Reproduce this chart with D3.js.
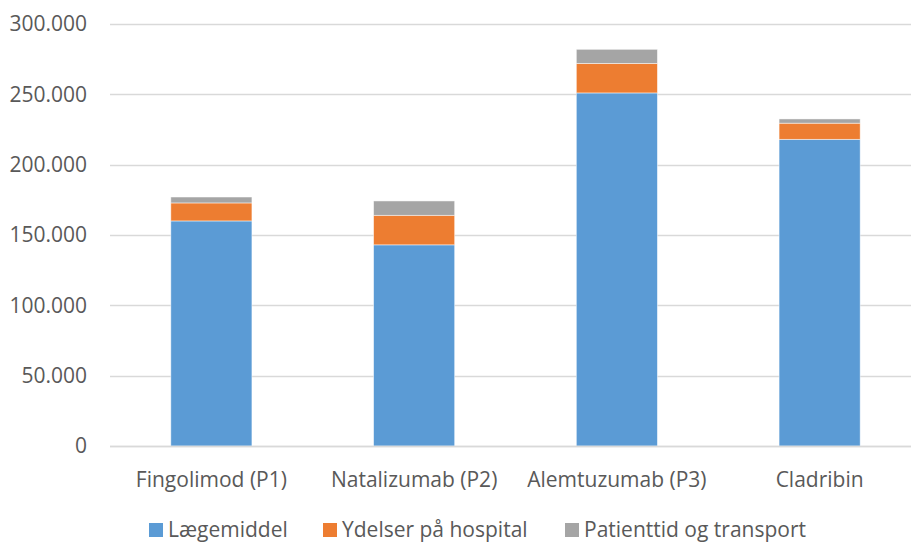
<!DOCTYPE html>
<html>
<head>
<meta charset="utf-8">
<script src="https://cdn.jsdelivr.net/npm/d3@7"></script>
<style>
  html, body { margin: 0; padding: 0; background: #fff; }
  svg { display: block; font-family: "Open Sans", "Lato", sans-serif; }
</style>
</head>
<body>
<svg id="chart" width="911" height="542"></svg>
<script>
// Costs per treatment (DKK), stacked by cost type
const categories = ["Fingolimod (P1)", "Natalizumab (P2)", "Alemtuzumab (P3)", "Cladribin"];
const seriesNames = ["Lægemiddel", "Ydelser på hospital", "Patienttid og transport"];
const laegemiddel = [160000, 143000, 251000, 218000];
const ydelser = [12800, 21000, 21000, 11500];
const patienttid = [4200, 10200, 10000, 3000];
const yTicks = [0, 50000, 100000, 150000, 200000, 250000, 300000];
const colors = ["#5b9bd5", "#ed7d31", "#a5a5a5"];

const rows = categories.map((c, i) => ({
  cat: c,
  "Lægemiddel": laegemiddel[i],
  "Ydelser på hospital": ydelser[i],
  "Patienttid og transport": patienttid[i]
}));

const svg = d3.select("#chart");
const plotLeft = 110, plotRight = 921, plotTop = 24, plotBottom = 446;
const fontSize = "21px";
const textColor = "#595959";

const x = d3.scaleBand().domain(categories).range([plotLeft, plotRight]).paddingInner(0.6).paddingOuter(0.3);
const y = d3.scaleLinear().domain([0, 300000]).range([plotBottom, plotTop]);
const color = d3.scaleOrdinal().domain(seriesNames).range(colors);

const fmt = v => v === 0 ? "0" : d3.format(",")(v).replace(/,/g, ".");

// Horizontal gridlines
svg.append("g")
  .selectAll("line")
  .data(yTicks)
  .join("line")
  .attr("x1", plotLeft).attr("x2", 911)
  .attr("y1", d => Math.round(y(d)) + 0.5).attr("y2", d => Math.round(y(d)) + 0.5)
  .attr("stroke", "#d9d9d9").attr("stroke-width", 1.3);

// Y axis labels
const yAxis = d3.axisLeft(y).tickValues(yTicks).tickFormat(fmt).tickSize(0).tickPadding(0);
svg.append("g")
  .attr("transform", `translate(${plotLeft - 23},0)`)
  .call(yAxis)
  .call(g => g.select(".domain").remove())
  .call(g => g.selectAll("text")
    .attr("fill", textColor)
    .style("font-size", fontSize)
    .style("font-family", "'Open Sans', sans-serif"));

// Stacked bars
const stacked = d3.stack().keys(seriesNames)(rows);
svg.append("g")
  .selectAll("g")
  .data(stacked)
  .join("g")
  .attr("fill", d => color(d.key))
  .selectAll("rect")
  .data(d => d)
  .join("rect")
  .attr("x", d => x(d.data.cat))
  .attr("width", x.bandwidth())
  .attr("y", d => y(d[1]))
  .attr("height", d => y(d[0]) - y(d[1]))
  .attr("stroke", "#ffffff")
  .attr("stroke-opacity", 0.6)
  .attr("stroke-width", 0.8);

// X axis baseline
svg.append("line")
  .attr("x1", plotLeft).attr("x2", 911)
  .attr("y1", plotBottom + 0.5).attr("y2", plotBottom + 0.5)
  .attr("stroke", "#d9d9d9").attr("stroke-width", 1.3);

// Category labels
const xAxis = d3.axisBottom(x).tickSize(0).tickPadding(0);
svg.append("g")
  .attr("transform", `translate(0,${plotBottom + 41})`)
  .call(xAxis)
  .call(g => g.select(".domain").remove())
  .call(g => g.selectAll("text")
    .attr("dy", 0)
    .attr("fill", textColor)
    .style("font-size", fontSize)
    .style("font-family", "'Open Sans', sans-serif"));

// Legend
const legendX = [149, 323, 565];
const legend = svg.append("g")
  .selectAll("g")
  .data(seriesNames)
  .join("g")
  .attr("transform", (d, i) => `translate(${legendX[i]},530)`);
legend.append("rect")
  .attr("x", 0).attr("y", -7).attr("width", 14).attr("height", 14)
  .attr("fill", d => color(d));
legend.append("text")
  .attr("x", 19).attr("y", 7)
  .attr("fill", textColor)
  .style("font-size", fontSize)
  .text(d => d);
</script>
</body>
</html>
